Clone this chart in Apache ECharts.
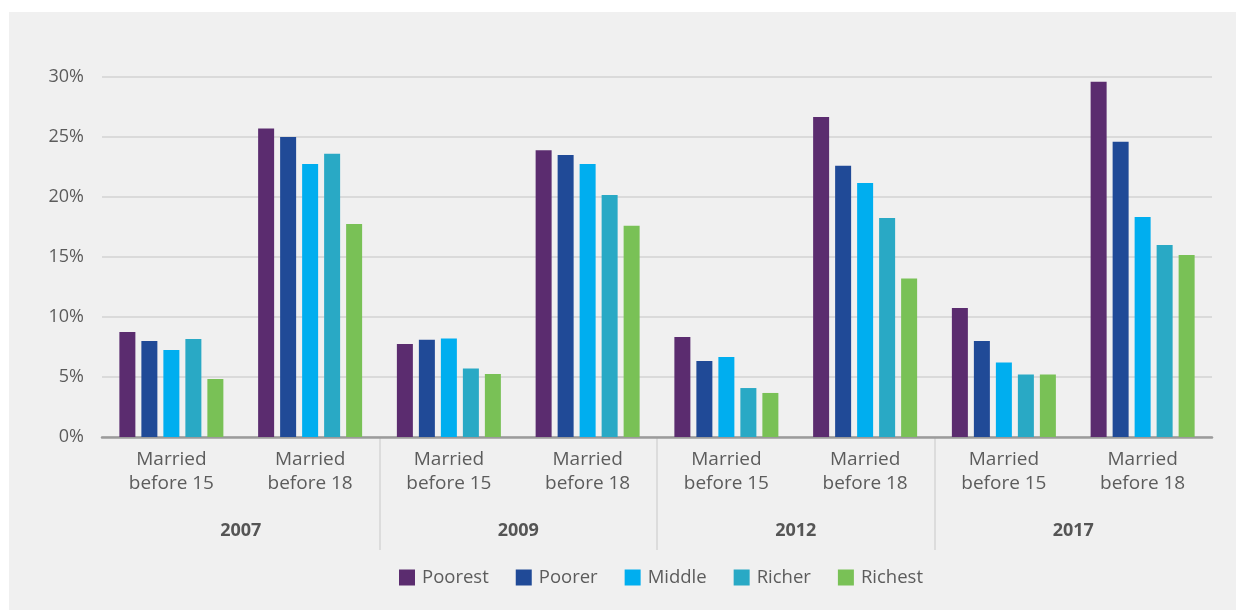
<!DOCTYPE html>
<html>
<head>
<meta charset="utf-8">
<script src="https://cdn.jsdelivr.net/npm/echarts@6/dist/echarts.min.js"></script>
<style>
html,body{margin:0;padding:0;background:#ffffff;width:1236px;height:610px;overflow:hidden;}
#chart{position:absolute;left:9px;top:12px;width:1227px;height:598px;}
</style>
</head>
<body>
<div id="chart"></div>
<script>
const categories = ['Married\nbefore 15','Married\nbefore 18','Married\nbefore 15','Married\nbefore 18','Married\nbefore 15','Married\nbefore 18','Married\nbefore 15','Married\nbefore 18'];
const years = ['2007','2009','2012','2017'];
const seriesNames = ['Poorest','Poorer','Middle','Richer','Richest'];
const poorest = [8.75, 25.7, 7.75, 23.9, 8.33, 26.67, 10.75, 29.6];
const poorer  = [8.0, 25.0, 8.1, 23.5, 6.33, 22.6, 8.0, 24.6];
const middle  = [7.25, 22.75, 8.2, 22.75, 6.67, 21.17, 6.2, 18.33];
const richer  = [8.17, 23.6, 5.7, 20.17, 4.08, 18.25, 5.2, 16.0];
const richest = [4.83, 17.75, 5.25, 17.6, 3.67, 13.2, 5.2, 15.17];
const yTicks = [0, 5, 10, 15, 20, 25, 30];

const colors = ['#5b2c6f','#204a97','#00aeef','#29a9c5','#79c156'];
const values = [poorest, poorer, middle, richer, richest];
const font = 'Open Sans';
const textColor = '#5c5c5c';

const chart = echarts.init(document.getElementById('chart'), null, {renderer:'canvas'});
chart.setOption({
  backgroundColor: '#f0f0f0',
  animation: false,
  textStyle: {fontFamily: font},
  legend: {
    left: 385, top: 551,
    itemWidth: 16, itemHeight: 16, itemGap: 27,
    icon: 'rect',
    textStyle: {fontFamily: font, fontSize: 18.5, color: textColor, padding: [0,0,0,2]},
    data: seriesNames
  },
  grid: [
    {left: 93, right: 24, top: 65, bottom: 173, containLabel: false},
    {left: 93, right: 24, top: 425, height: 113, containLabel: false}
  ],
  xAxis: [
    {
      type: 'category', gridIndex: 0, data: categories,
      axisLine: {show: true, lineStyle: {color: '#9b9b9b', width: 2.5}},
      axisTick: {show: false},
      axisLabel: {fontFamily: font, fontSize: 19, lineHeight: 24, color: textColor, margin: 11, interval: 0}
    },
    {
      type: 'category', gridIndex: 1, data: years, position: 'bottom',
      axisLine: {show: false},
      axisTick: {show: false},
      splitLine: {show: true, showMinLine: false, showMaxLine: false, interval: 0, lineStyle: {color: '#d6d6d6', width: 1.5}},
      axisLabel: {inside: true, fontFamily: font, fontSize: 18, fontWeight: 'bold', lineHeight: 18, color: '#555555', margin: 10, interval: 0}
    }
  ],
  yAxis: [
    {
      type: 'value', gridIndex: 0, min: yTicks[0], max: yTicks[yTicks.length-1], interval: 5,
      axisLine: {show: false}, axisTick: {show: false},
      splitLine: {show: true, lineStyle: {color: '#d3d3d3', width: 1.5}},
      axisLabel: {fontFamily: font, fontSize: 18, color: textColor, margin: 18, formatter: '{value}%'}
    },
    {type: 'value', gridIndex: 1, show: false}
  ],
  series: seriesNames.map((name, i) => ({
    name: name, type: 'bar', xAxisIndex: 0, yAxisIndex: 0,
    data: values[i], barWidth: 16, barGap: '37.5%',
    itemStyle: {color: colors[i]}
  }))
});
</script>
</body>
</html>
